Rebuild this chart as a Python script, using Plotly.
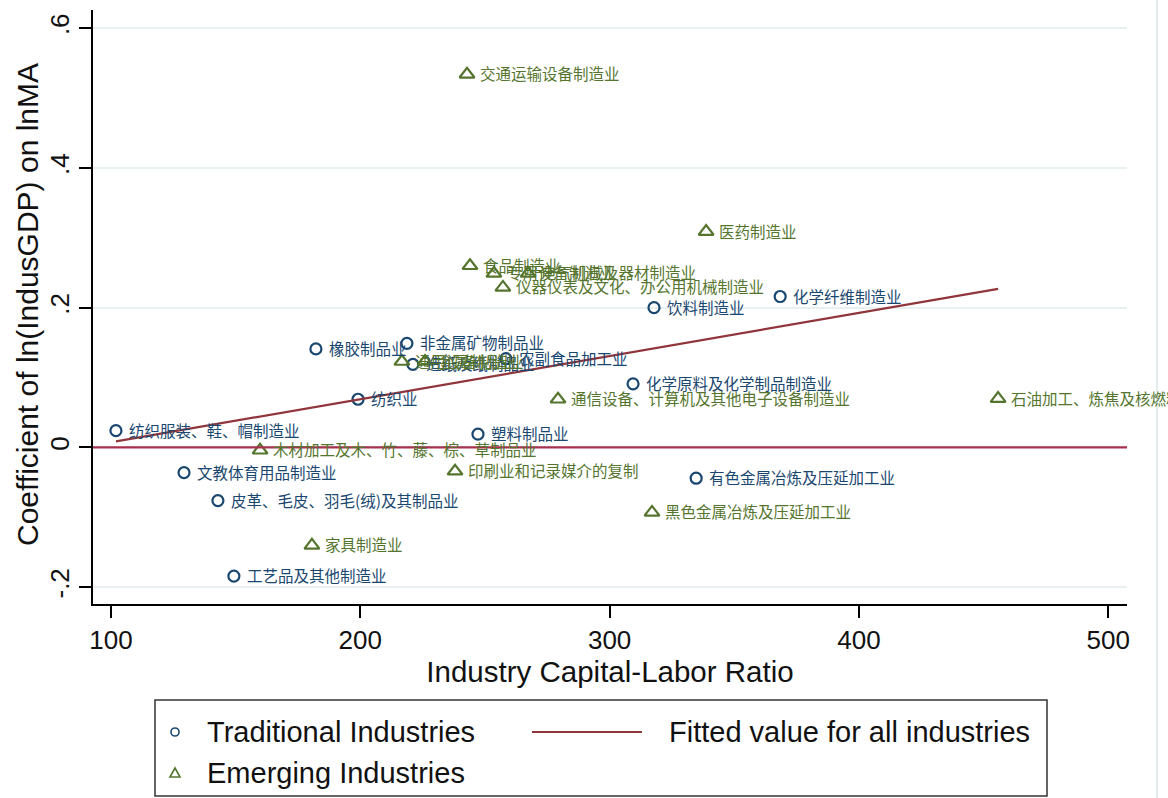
import plotly.graph_objects as go

# ---------------- data ----------------
trad_names = [
    "纺织服装、鞋、帽制造业", "文教体育用品制造业", "皮革、毛皮、羽毛(绒)及其制品业",
    "工艺品及其他制造业", "橡胶制品业", "非金属矿物制品业", "纺织业", "塑料制品业",
    "饮料制造业", "化学纤维制造业", "化学原料及化学制品制造业", "有色金属冶炼及压延加工业",
    "农副食品加工业", "造纸及纸制品业",
]
trad_x = [102.0, 129.3, 142.9, 149.3, 182.2, 218.7, 199.1, 247.2,
          317.8, 368.4, 309.4, 334.7, 258.4, 221.1]
trad_y = [0.024, -0.036, -0.076, -0.184, 0.141, 0.149, 0.069, 0.019,
          0.200, 0.216, 0.091, -0.044, 0.127, 0.119]

emer_names = [
    "交通运输设备制造业", "食品制造业", "专用设备制造业", "电气机械及器材制造业",
    "仪器仪表及文化、办公用机械制造业", "医药制造业", "通信设备、计算机及其他电子设备制造业",
    "石油加工、炼焦及核燃料加工业", "木材加工及木、竹、藤、棕、草制品业",
    "印刷业和记录媒介的复制", "黑色金属冶炼及压延加工业", "家具制造业",
    "通用设备制造业", "金属制品业",
]
emer_x = [242.8, 244.0, 253.6, 267.3, 257.2, 338.7, 279.3,
          455.8, 159.8, 238.0, 317.0, 180.6, 216.7, 226.0]
emer_y = [0.534, 0.260, 0.249, 0.249, 0.229, 0.309, 0.069,
          0.070, -0.004, -0.034, -0.093, -0.140, 0.123, 0.123]

fit_x = [102.0, 455.8]
fit_y = [0.0086, 0.227]

x_ticks = [100, 200, 300, 400, 500]
y_ticks = [-0.2, 0.0, 0.2, 0.4, 0.6]
y_tick_labels = ["-.2", "0", ".2", ".4", ".6"]

x_title = "Industry Capital-Labor Ratio"
y_title = "Coefficient of ln(IndusGDP) on lnMA"
legend_labels = ["Traditional Industries", "Fitted value for all industries", "Emerging Industries"]

# ---------------- styling ----------------
NAVY = "#1a476f"
GREEN = "#55752f"
MAROON = "#90353b"
ZERO = "#a8304e"
GRID = "#e8f0f2"
LATIN = "Liberation Sans, Arial, sans-serif"
CJK = "Noto Sans CJK SC, sans-serif"

W, H = 1168, 798
ML, MR, MT, MB = 93, 41, 10, 194
PW, PH = W - ML - MR, H - MT - MB


def px(xp):
    return (xp - ML) / PW


def py(yp):
    return (H - MB - yp) / PH


fig = go.Figure()

fig.add_trace(go.Scatter(
    x=trad_x, y=trad_y, mode="markers", name=legend_labels[0],
    marker=dict(symbol="circle-open", size=11, color=NAVY, line=dict(width=2.2)),
    showlegend=False, cliponaxis=False,
))
fig.add_trace(go.Scatter(
    x=emer_x, y=emer_y, mode="markers", name=legend_labels[2],
    marker=dict(symbol="triangle-up-open", size=13, color=GREEN, line=dict(width=2.2)),
    showlegend=False, cliponaxis=False,
))
fig.add_trace(go.Scatter(
    x=fit_x, y=fit_y, mode="lines", name=legend_labels[1],
    line=dict(color=MAROON, width=2.2), showlegend=False,
))

annotations = []
for names, xs, ys, col in ((trad_names, trad_x, trad_y, NAVY), (emer_names, emer_x, emer_y, GREEN)):
    for n, xv, yv in zip(names, xs, ys):
        annotations.append(dict(
            x=xv, y=yv, xref="x", yref="y", text=n, showarrow=False,
            xanchor="left", yanchor="middle", xshift=11, yshift=1,
            font=dict(family=CJK, size=15.5, color=col),
        ))

# y axis title placed explicitly
annotations.append(dict(
    x=px(27), y=py(305), xref="paper", yref="paper", text=y_title, textangle=-90,
    showarrow=False, xanchor="center", yanchor="middle",
    font=dict(family=LATIN, size=30, color="#111111"),
))

# legend (drawn by hand to mimic the Stata legend box)
LEG_FONT = dict(family=LATIN, size=29, color="#111111")
annotations += [
    dict(x=px(205), y=py(732), xref="paper", yref="paper", text=legend_labels[0],
         showarrow=False, xanchor="left", yanchor="middle", font=LEG_FONT),
    dict(x=px(667), y=py(732), xref="paper", yref="paper", text=legend_labels[1],
         showarrow=False, xanchor="left", yanchor="middle", font=LEG_FONT),
    dict(x=px(205), y=py(773), xref="paper", yref="paper", text=legend_labels[2],
         showarrow=False, xanchor="left", yanchor="middle", font=LEG_FONT),
]

shapes = [
    # zero reference line
    dict(type="line", xref="paper", yref="y", x0=0, x1=1, y0=0, y1=0,
         line=dict(color=ZERO, width=2.2)),
    # outer graph region edge on the right
    dict(type="line", xref="paper", yref="paper", x0=px(1157), x1=px(1157), y0=py(798), y1=py(0),
         line=dict(color="#e4ecee", width=2)),
    # legend box
    dict(type="rect", xref="paper", yref="paper", x0=px(155), x1=px(1047), y0=py(796), y1=py(700),
         line=dict(color="#333333", width=1.5), fillcolor="white", layer="below"),
    # legend circle
    dict(type="circle", xref="paper", yref="paper", xsizemode="pixel", ysizemode="pixel",
         xanchor=px(175), yanchor=py(732), x0=-4, x1=4, y0=-4, y1=4,
         line=dict(color=NAVY, width=1.6)),
    # legend triangle
    dict(type="path", xref="paper", yref="paper", xsizemode="pixel", ysizemode="pixel",
         xanchor=px(175), yanchor=py(773), path="M-5,-4 L5,-4 L0,5 Z",
         line=dict(color=GREEN, width=1.6)),
    # legend fitted line
    dict(type="line", xref="paper", yref="paper", x0=px(532), x1=px(642), y0=py(732), y1=py(732),
         line=dict(color=MAROON, width=2)),
]

fig.update_layout(
    width=W, height=H,
    margin=dict(l=ML, r=MR, t=MT, b=MB, autoexpand=False),
    paper_bgcolor="white", plot_bgcolor="white",
    annotations=annotations, shapes=shapes,
    xaxis=dict(
        range=[92.8, 507.5], tickvals=x_ticks, ticks="outside", ticklen=12, tickwidth=2,
        tickcolor="black", showline=True, linecolor="black", linewidth=2, showgrid=False,
        zeroline=False, tickfont=dict(family=LATIN, size=26, color="#111111"),
        title=dict(text=x_title, font=dict(family=LATIN, size=29.5, color="#111111"),
                   standoff=0),
        automargin=False,
    ),
    yaxis=dict(
        range=[-0.224, 0.626], tickvals=y_ticks, ticktext=y_tick_labels, tickangle=-90,
        ticks="outside", ticklen=12, tickwidth=2, tickcolor="black", showline=True,
        linecolor="black", linewidth=2, showgrid=True, gridcolor=GRID, gridwidth=2,
        zeroline=False, tickfont=dict(family=LATIN, size=26, color="#111111"),
        automargin=False,
    ),
)

fig.write_html("out.html")
